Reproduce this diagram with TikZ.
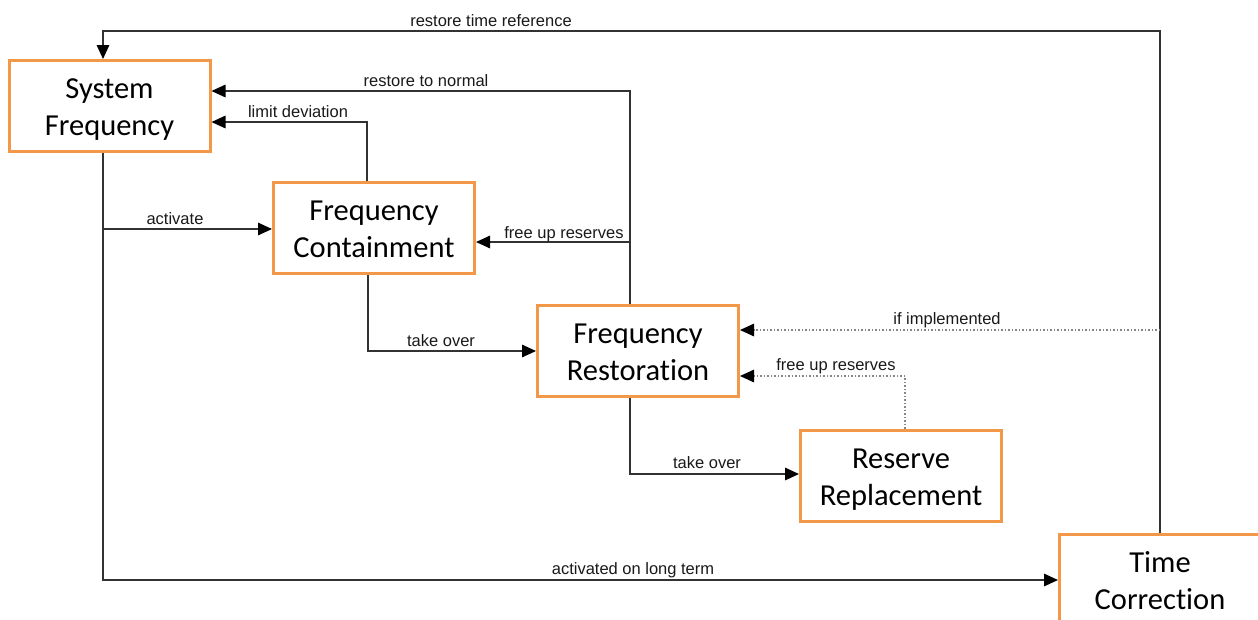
\documentclass[tikz,border=0pt]{standalone}
\usepackage{fontspec}
\setmainfont{Carlito}[Ligatures=NoCommon]
\newfontfamily\labelfont{Liberation Sans}
\usetikzlibrary{arrows.meta,calc}
\definecolor{boxorange}{RGB}{243,151,72}
\definecolor{wire}{RGB}{50,50,50}
\definecolor{dotwire}{RGB}{135,135,135}
% two-line block caption, set a little below the geometric centre
\newcommand\blocktext[2]{\raisebox{-3.8pt}[\height][\depth]{%
  \begin{tabular}{@{}c@{}}#1\\#2\end{tabular}}}

\begin{document}
\begin{tikzpicture}[x=1pt,y=-1pt,
  blockbox/.style={draw=boxorange, line width=3pt, fill=white,
    minimum width=201pt, minimum height=91pt, inner sep=0pt,
    font=\fontsize{30.5}{37}\selectfont},
  link/.style={draw=wire, line width=1.5pt,
    -{Triangle[length=14pt,width=12.5pt,color=black]}},
  dotlink/.style={link, draw=dotwire, dash pattern=on 1.5pt off 2pt},
  lbl/.style={font=\labelfont\fontsize{16.5}{19}\selectfont,
    text=black!90, inner sep=0pt, anchor=base}]
\useasboundingbox (0,0) rectangle (1258,619);

% blocks
\node[blockbox] (sf) at (109.5,106) {\blocktext{System}{Frequency}};
\node[blockbox] (fc) at (374,228) {\blocktext{Frequency}{Containment}};
\node[blockbox] (fr) at (638,351) {\blocktext{Frequency}{Restoration}};
\node[blockbox] (rr) at (901,475.5) {\blocktext{Reserve}{Replacement}};
\node[blockbox] (tc) at (1160,580) {\blocktext{Time}{Correction}};

% helper points on the feedback lines
\coordinate (topright) at ($(tc.north)+(0,-502)$);
\coordinate (frup) at ($(fr.north)+(-8,0)$);
\coordinate (branch) at ($(fr.north)+(-8,-62)$);
\coordinate (tap) at ($(tc.north)+(0,-203)$);
\coordinate (sfdown) at ($(sf.south)+(-6.5,0)$);

% connectors
\draw[link] (tc.north) -- (topright) -| ($(sf.north)+(-6.5,0)$);
\draw[link] (frup) |- ($(sf.east)+(0,-15)$);
\draw[link] ($(fc.north)+(-7,0)$) |- ($(sf.east)+(0,16)$);
\draw[link] (sfdown) |- ($(fc.west)+(0,1)$);
\draw[link] (sfdown) |- (tc.west);
\draw[link] (branch) -- (branch -| fc.east);
\draw[link] ($(fc.south)+(-6,0)$) |- (fr.west);
\draw[dotlink] (tap) -- (tap -| fr.east);
\draw[dotlink] ($(rr.north)+(4,0)$) |- ($(fr.east)+(0,25)$);
\draw[link] ($(fr.south)+(-8,0)$) |- ($(rr.west)+(0,-1.5)$);

% labels
\node[lbl] (l1) at (491,26) {restore time reference};
\node[lbl] (l2) at (426,86) {restore to normal};
\node[lbl] (l3) at (298,117) {limit deviation};
\node[lbl] (l4) at (175,224) {activate};
\node[lbl] (l5) at (564,238) {free up reserves};
\node[lbl] (l6) at (441,346) {take over};
\node[lbl] (l7) at (947,324) {if implemented};
\node[lbl] (l8) at (836,370) {free up reserves};
\node[lbl] (l9) at (707,468) {take over};
\node[lbl] (l10) at (633,574) {activated on long term};
\end{tikzpicture}
\end{document}
